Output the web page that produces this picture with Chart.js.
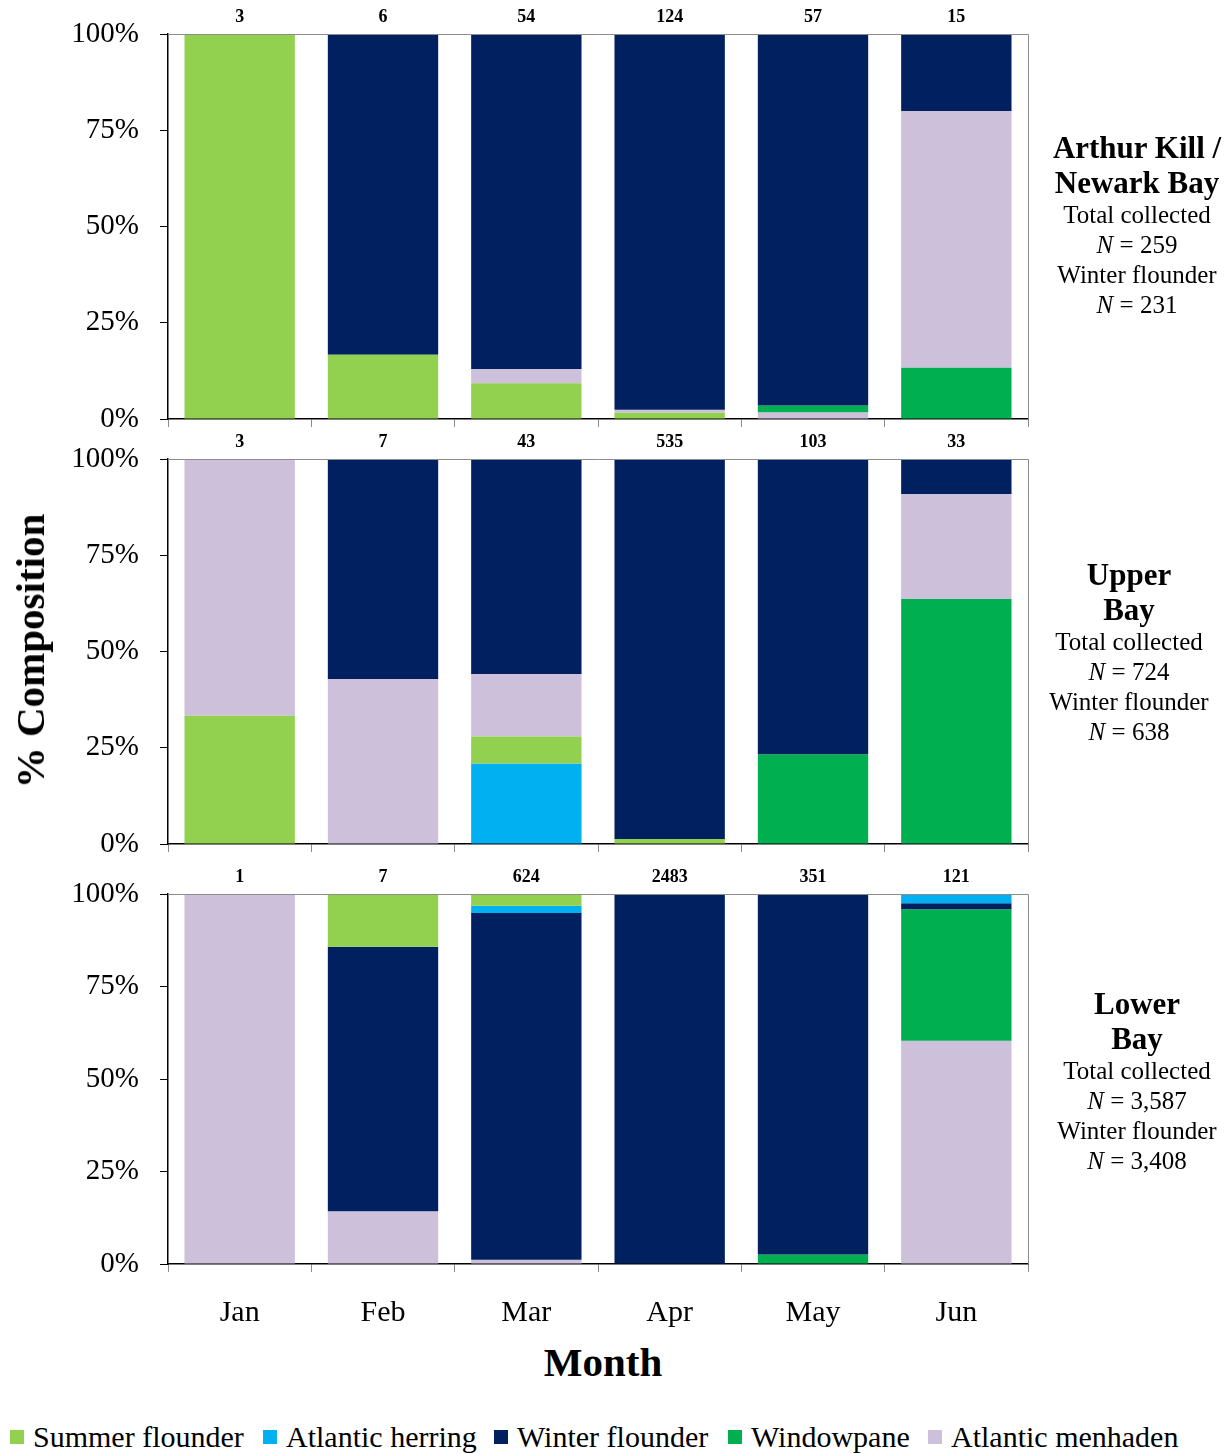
<!DOCTYPE html>
<html>
<head>
<meta charset="utf-8">
<script src="https://cdn.jsdelivr.net/npm/chart.js@4.4.0/dist/chart.umd.min.js"></script>
<style>
    body { margin: 0; background: #fff; overflow: hidden; }
    #page { position: relative; width: 1230px; height: 1454px; font-family: 'Liberation Serif', 'Times New Roman', serif; color: #000; }
    .panel { position: absolute; left: 0; }
    .side { position: absolute; width: 240px; text-align: center; }
    .side .t { font-weight: bold; font-size: 31px; line-height: 35px; }
    .side .s { font-size: 25px; line-height: 30px; }
    #ytitle { position: absolute; left: 30px; top: 651px; transform: translate(-50%, -50%) rotate(-90deg); font-weight: bold; font-size: 41px; white-space: nowrap; }
    #xtitle { position: absolute; left: 603px; top: 1362px; transform: translate(-50%, -50%); font-weight: bold; font-size: 41px; }
    .leg { position: absolute; top: 1437px; transform: translateY(-50%); font-size: 30px; white-space: nowrap; }
    .sw { position: absolute; top: 1430px; width: 14px; height: 14px; }
</style>
</head>
<body>
<div id="page">
    <div class="panel" style="top:0px"><canvas id="c1" width="1040" height="440"></canvas></div>
    <div class="panel" style="top:425px"><canvas id="c2" width="1040" height="440"></canvas></div>
    <div class="panel" style="top:860px"><canvas id="c3" width="1040" height="474"></canvas></div>

    <div class="side" style="left:1017px; top:130px">
        <div class="t">Arthur Kill /</div><div class="t">Newark Bay</div>
        <div class="s">Total collected</div><div class="s"><i>N</i> = 259</div>
        <div class="s">Winter flounder</div><div class="s"><i>N</i> = 231</div>
    </div>
    <div class="side" style="left:1009px; top:557px">
        <div class="t">Upper</div><div class="t">Bay</div>
        <div class="s">Total collected</div><div class="s"><i>N</i> = 724</div>
        <div class="s">Winter flounder</div><div class="s"><i>N</i> = 638</div>
    </div>
    <div class="side" style="left:1017px; top:986px">
        <div class="t">Lower</div><div class="t">Bay</div>
        <div class="s">Total collected</div><div class="s"><i>N</i> = 3,587</div>
        <div class="s">Winter flounder</div><div class="s"><i>N</i> = 3,408</div>
    </div>

    <div id="ytitle">% Composition</div>
    <div id="xtitle">Month</div>
    <div id="legend"></div>
</div>
<script>
var months = ['Jan', 'Feb', 'Mar', 'Apr', 'May', 'Jun'];
var species = ['Summer flounder', 'Atlantic herring', 'Winter flounder', 'Windowpane', 'Atlantic menhaden'];
var colors = ['#92d050', '#00b0f0', '#002060', '#00b050', '#ccc0da'];
var yTicks = [0, 25, 50, 75, 100];

// Arthur Kill / Newark Bay - fish counts per month
var akSummer = [3, 1, 5, 2, 0, 0];
var akHerring = [0, 0, 0, 0, 0, 0];
var akWinter = [0, 5, 47, 121, 55, 3];
var akWindowpane = [0, 0, 0, 0, 1, 2];
var akMenhaden = [0, 0, 2, 1, 1, 10];

// Upper Bay
var ubSummer = [1, 0, 3, 7, 0, 0];
var ubHerring = [0, 0, 9, 0, 0, 0];
var ubWinter = [0, 4, 24, 528, 79, 3];
var ubWindowpane = [0, 0, 0, 0, 24, 21];
var ubMenhaden = [2, 3, 7, 0, 0, 9];

// Lower Bay
var lbSummer = [0, 1, 20, 6, 0, 0];
var lbHerring = [0, 0, 12, 0, 0, 3];
var lbWinter = [0, 5, 585, 2474, 342, 2];
var lbWindowpane = [0, 0, 0, 0, 9, 43];
var lbMenhaden = [1, 1, 7, 3, 0, 73];

// stacking order, bottom to top (species index), per month
var akDef = [0, 1, 3, 4, 2];
var akOrder = [akDef, akDef, akDef, akDef, [4, 3, 0, 1, 2], akDef];
var ubDef = [1, 0, 3, 4, 2];
var ubOrder = [ubDef, ubDef, ubDef, ubDef, ubDef, ubDef];
var lbDef = [4, 3, 2, 1, 0];
var lbOrder = [lbDef, lbDef, lbDef, lbDef, lbDef, lbDef];

function totalsOf(counts) {
    let t = [];
    for (let m = 0; m < months.length; m++) {
        let s = 0;
        counts.forEach(function (c) { s += c[m]; });
        t.push(s);
    }
    return t;
}

function buildDatasets(counts, order) {
    let tot = totalsOf(counts);
    let ds = species.map(function (name, i) {
        return { label: name, backgroundColor: colors[i], borderWidth: 0, data: [] };
    });
    for (let m = 0; m < months.length; m++) {
        let base = 0;
        order[m].forEach(function (i) {
            let v = counts[i][m] / tot[m] * 100;
            ds[i].data[m] = v > 0 ? [base, base + v] : null;
            base += v;
        });
    }
    return ds;
}

var panelPlugin = {
    id: 'panelExtras',
    afterDatasetsDraw: function (chart) {
        let ctx = chart.ctx, a = chart.chartArea;
        let tot = chart.options.plugins.panelExtras.totals;
        ctx.save();
        ctx.strokeStyle = '#8c8c8c';
        ctx.lineWidth = 1;
        ctx.beginPath();
        ctx.moveTo(a.left, a.top + 0.5);
        ctx.lineTo(a.right + 0.5, a.top + 0.5);
        ctx.lineTo(a.right + 0.5, a.bottom);
        ctx.stroke();
        ctx.fillStyle = '#000';
        ctx.font = 'bold 18px "Liberation Serif"';
        ctx.textAlign = 'center';
        ctx.textBaseline = 'bottom';
        for (let m = 0; m < tot.length; m++) {
            ctx.fillText(tot[m], chart.scales.x.getPixelForValue(m), a.top - 8);
        }
        ctx.restore();
    }
};

function makeChart(id, counts, order, showLabels, xHeight) {
    let ctx = document.getElementById(id);
    return new Chart(ctx, {
        type: 'bar',
        data: { labels: months, datasets: buildDatasets(counts, order) },
        options: {
            responsive: false,
            animation: false,
            layout: { padding: { top: 34, right: 12, left: 0, bottom: 0 } },
            plugins: {
                legend: { display: false },
                tooltip: { enabled: false },
                panelExtras: { totals: totalsOf(counts) }
            },
            datasets: { bar: { barPercentage: 0.77, categoryPercentage: 1.0 } },
            scales: {
                x: {
                    stacked: true,
                    grid: { drawOnChartArea: false, tickLength: 8, color: '#8c8c8c', offset: true },
                    border: { color: '#000', width: 1.5 },
                    ticks: { display: showLabels, color: '#000', padding: 23, font: { family: 'Liberation Serif', size: 30 } },
                    afterFit: function (s) { s.height = xHeight; }
                },
                y: {
                    min: 0, max: 100,
                    afterBuildTicks: function (s) { s.ticks = yTicks.map(function (v) { return { value: v }; }); },
                    ticks: { color: '#000', padding: 21, callback: function (v) { return v + '%'; }, font: { family: 'Liberation Serif', size: 29 } },
                    grid: { drawOnChartArea: false, tickLength: 8, color: '#000' },
                    border: { color: '#000', width: 1.5 },
                    afterFit: function (s) { s.width = 168; s.paddingTop = 0; s.paddingBottom = 0; }
                }
            }
        },
        plugins: [panelPlugin]
    });
}

makeChart('c1', [akSummer, akHerring, akWinter, akWindowpane, akMenhaden], akOrder, false, 21);
makeChart('c2', [ubSummer, ubHerring, ubWinter, ubWindowpane, ubMenhaden], ubOrder, false, 21);
makeChart('c3', [lbSummer, lbHerring, lbWinter, lbWindowpane, lbMenhaden], lbOrder, true, 70);

// legend
var legX = [10, 263, 494, 728, 928];
var leg = document.getElementById('legend');
species.forEach(function (name, i) {
    let sw = document.createElement('div');
    sw.className = 'sw';
    sw.style.left = legX[i] + 'px';
    sw.style.background = colors[i];
    leg.appendChild(sw);
    let t = document.createElement('div');
    t.className = 'leg';
    t.style.left = (legX[i] + 23) + 'px';
    t.textContent = name;
    leg.appendChild(t);
});
</script>
</body>
</html>
